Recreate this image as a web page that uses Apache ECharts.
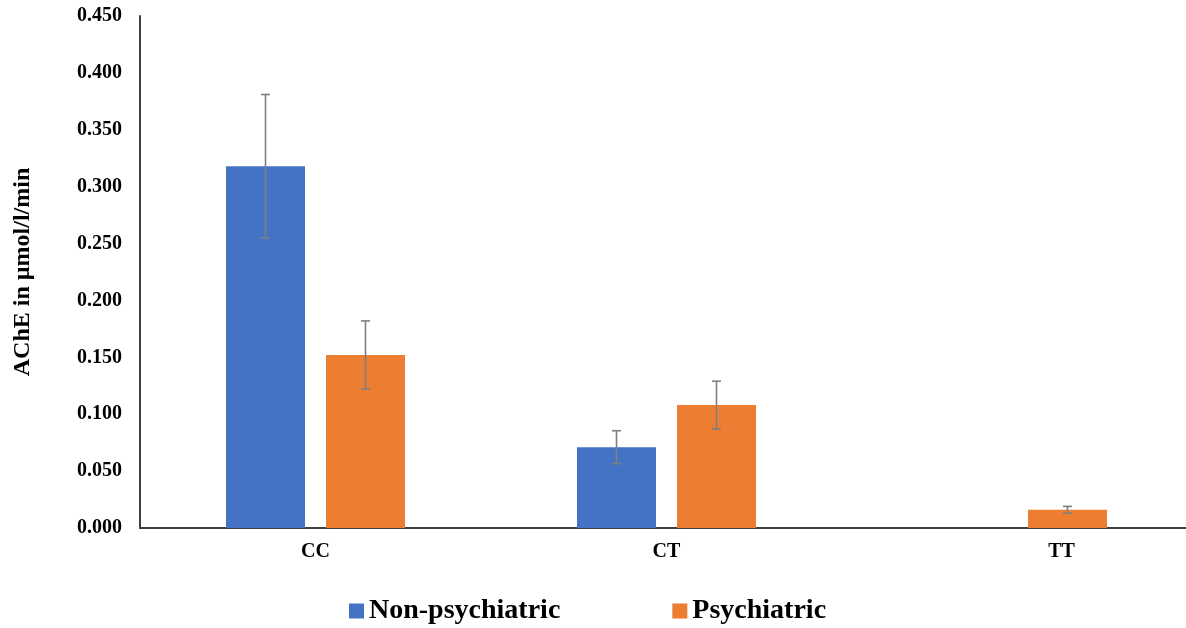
<!DOCTYPE html>
<html>
<head>
<meta charset="utf-8">
<script src="https://cdn.jsdelivr.net/npm/echarts@6/dist/echarts.min.js"></script>
<style>
  html, body { margin: 0; padding: 0; background: #fff; }
  #chart { width: 1186px; height: 628px; }
</style>
</head>
<body>
<div id="chart"></div>
<script>
// Genotype groups
const categories = ['CC', 'CT', 'TT'];
// Mean AChE activity (µmol/l/min)
const nonPsychiatric = [0.318, 0.071, 0];
const psychiatric = [0.152, 0.108, 0.016];
// Error half-widths
const nonPsychiatricErr = [0.063, 0.0145, 0];
const psychiatricErr = [0.030, 0.021, 0.003];
// Value axis ticks
const yMin = 0, yMax = 0.45, yStep = 0.05;

const serif = '"Liberation Serif", "Times New Roman", serif';
const blue = '#4472C4';
const orange = '#ED7D31';
const barWidth = 79;
const barGap = 21;

// Error bar drawn at the centre of one bar in a group
function errorSeries(name, means, errs, offsetSign) {
  const data = means.map((m, i) => [i, m - errs[i], m + errs[i]]).filter((d, i) => errs[i] > 0);
  return {
    type: 'custom',
    name: name + ' error',
    silent: true,
    z: 10,
    data: data,
    renderItem: function (params, api) {
      const i = api.value(0);
      const lo = api.coord([i, api.value(1)]);
      const hi = api.coord([i, api.value(2)]);
      const x = lo[0] + offsetSign * (barWidth + barGap) / 2;
      const cap = 4.5;
      const style = { stroke: '#7f7f7f', lineWidth: 1.6, fill: 'none' };
      return {
        type: 'group',
        children: [
          { type: 'line', shape: { x1: x, y1: hi[1], x2: x, y2: lo[1] }, style: style },
          { type: 'line', shape: { x1: x - cap, y1: hi[1], x2: x + cap, y2: hi[1] }, style: style },
          { type: 'line', shape: { x1: x - cap, y1: lo[1], x2: x + cap, y2: lo[1] }, style: style }
        ]
      };
    }
  };
}

// Horizontal shift of each category name (px)
const labelShift = [0, 0, 44];

const chart = echarts.init(document.getElementById('chart'));
chart.setOption({
  animation: false,
  backgroundColor: '#fff',
  grid: { left: 140, top: 16, width: 1053, height: 512, containLabel: false, outerBoundsMode: 'none' },
  legend: {
    top: 592,
    left: 344,
    itemWidth: 15,
    itemHeight: 15,
    itemGap: 112,
    icon: 'rect',
    data: ['Non-psychiatric', 'Psychiatric'],
    textStyle: { fontFamily: serif, fontWeight: 'bold', fontSize: 28, color: '#000' }
  },
  xAxis: {
    type: 'category',
    data: categories.map((c, i) => ({
      value: c,
      textStyle: {
        padding: labelShift[i] < 0 ? [0, -2 * labelShift[i], 0, 0] : [0, 0, 0, 2 * labelShift[i]]
      }
    })),
    axisLine: { lineStyle: { color: '#404040', width: 2 } },
    axisTick: { show: false },
    axisLabel: { margin: 14, fontFamily: serif, fontWeight: 'bold', fontSize: 20, color: '#000' },
    splitLine: { show: false }
  },
  yAxis: {
    type: 'value',
    min: yMin,
    max: yMax,
    interval: yStep,
    name: 'AChE in µmol/l/min',
    nameLocation: 'middle',
    nameGap: 105,
    nameRotate: 90,
    nameTextStyle: { fontFamily: serif, fontWeight: 'bold', fontSize: 24, color: '#000' },
    axisLine: { show: true, lineStyle: { color: '#404040', width: 2 } },
    axisTick: { show: false },
    splitLine: { show: false },
    axisLabel: {
      margin: 18,
      fontFamily: serif,
      fontWeight: 'bold',
      fontSize: 20,
      color: '#000',
      formatter: v => v.toFixed(3)
    }
  },
  series: [
    {
      name: 'Non-psychiatric',
      type: 'bar',
      data: nonPsychiatric,
      barWidth: barWidth,
      barGap: (barGap / barWidth * 100).toFixed(1) + '%',
      itemStyle: { color: blue }
    },
    {
      name: 'Psychiatric',
      type: 'bar',
      data: psychiatric,
      barWidth: barWidth,
      itemStyle: { color: orange }
    },
    errorSeries('Non-psychiatric', nonPsychiatric, nonPsychiatricErr, -1),
    errorSeries('Psychiatric', psychiatric, psychiatricErr, 1)
  ]
});
</script>
</body>
</html>
